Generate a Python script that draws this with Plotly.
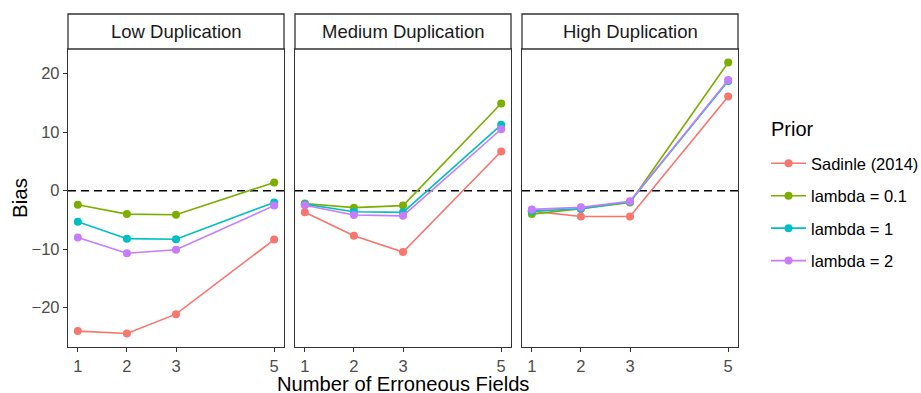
import plotly.graph_objects as go

# Number of erroneous fields on the x axis
fields = [1, 2, 3, 5]

panels = ["Low Duplication", "Medium Duplication", "High Duplication"]
priors = ["Sadinle (2014)", "lambda = 0.1", "lambda = 1", "lambda = 2"]
colors = ["#F8766D", "#7CAE00", "#00BFC4", "#C77CFF"]

# Bias per prior, one list per duplication level
bias_low = {
    "Sadinle (2014)": [-24.0, -24.4, -21.1, -8.35],
    "lambda = 0.1": [-2.4, -4.0, -4.1, 1.4],
    "lambda = 1": [-5.3, -8.2, -8.3, -2.0],
    "lambda = 2": [-8.0, -10.7, -10.1, -2.55],
}
bias_medium = {
    "Sadinle (2014)": [-3.7, -7.7, -10.5, 6.7],
    "lambda = 0.1": [-2.2, -2.9, -2.55, 14.9],
    "lambda = 1": [-2.3, -3.6, -3.7, 11.25],
    "lambda = 2": [-2.5, -4.15, -4.3, 10.5],
}
bias_high = {
    "Sadinle (2014)": [-3.5, -4.4, -4.4, 16.1],
    "lambda = 0.1": [-4.0, -3.1, -2.0, 21.9],
    "lambda = 1": [-3.5, -3.1, -1.9, 18.75],
    "lambda = 2": [-3.2, -2.85, -1.8, 18.9],
}
panel_data = [bias_low, bias_medium, bias_high]

y_ticks = [-20, -10, 0, 10, 20]
x_ticks = [1, 2, 3, 5]

FONT = "Liberation Sans, Arial, Helvetica, sans-serif"
DARK = "#333333"
TICK_TXT = "#4D4D4D"

# ggplot-style 5% expansion of the data range
all_vals = [v for d in panel_data for s in d.values() for v in s]
lo, hi = min(all_vals), max(all_vals)
pad = 0.05 * (hi - lo)
y_range = [lo - pad, hi + pad]
x_pad = 0.05 * (max(fields) - min(fields))
x_range = [min(fields) - x_pad, max(fields) + x_pad]

fig = go.Figure()

FIG_W, FIG_H = 921, 393
M_L, M_R, M_T, M_B = 68, 183, 14, 46
W = float(FIG_W - M_L - M_R)
H = float(FIG_H - M_T - M_B)
pw, gap = 216.0, 11.0
domains = [[0, pw / W], [(pw + gap) / W, (2 * pw + gap) / W], [(2 * pw + 2 * gap) / W, 1.0]]
y_top = (FIG_H - M_B - 49) / H

for p, data in enumerate(panel_data):
    ax = "" if p == 0 else str(p + 1)
    for name, col in zip(priors, colors):
        fig.add_trace(go.Scatter(
            x=fields, y=data[name], mode="lines+markers", name=name,
            line=dict(color=col, width=1.6),
            marker=dict(color=col, size=8),
            legendgroup=name, showlegend=(p == 0),
            xaxis="x" + ax, yaxis="y" + ax,
        ))

layout = dict(
    width=FIG_W, height=FIG_H,
    margin=dict(l=M_L, r=M_R, t=M_T, b=M_B, autoexpand=False),
    paper_bgcolor="white", plot_bgcolor="white",
    font=dict(family=FONT, color="#1A1A1A"),
    legend=dict(
        xref="container", yref="container",
        x=766 / FIG_W, y=1 - 146 / FIG_H, xanchor="left", yanchor="top",
        font=dict(size=16.5, color="#000000"),
        tracegroupgap=8, itemwidth=35, bgcolor="rgba(0,0,0,0)",
    ),
    shapes=[], annotations=[],
)

for p in range(3):
    ax = "" if p == 0 else str(p + 1)
    xa = dict(
        domain=domains[p], range=x_range, tickvals=x_ticks, ticktext=[str(t) for t in x_ticks],
        showgrid=False, zeroline=False, showline=True, mirror=True, linecolor=DARK, linewidth=1.3,
        ticks="outside", ticklen=4, tickwidth=1.2, tickcolor=DARK,
        tickfont=dict(size=16.5, color=TICK_TXT), anchor="y" + ax,
    )
    ya = dict(
        domain=[0, y_top], range=y_range, tickvals=y_ticks,
        showgrid=False, zeroline=False, showline=True, mirror=True, linecolor=DARK, linewidth=1.3,
        ticks="outside" if p == 0 else "", ticklen=4, tickwidth=1.2, tickcolor=DARK,
        showticklabels=(p == 0),
        tickfont=dict(size=16.5, color=TICK_TXT), anchor="x" + ax,
    )
    layout["xaxis" + ax] = xa
    layout["yaxis" + ax] = ya
    xref = "x" + ax + " domain"
    # reference line at zero bias
    layout["shapes"].append(dict(
        type="line", xref=xref, yref="y" + ax, x0=0, x1=1, y0=0, y1=0,
        line=dict(color="black", width=1.5, dash="8px,5px"), layer="below",
    ))
    # facet strip
    layout["shapes"].append(dict(
        type="rect", xref=xref, yref="paper", x0=0, x1=1, y0=y_top, y1=1,
        line=dict(color=DARK, width=1.3), fillcolor="white",
    ))
    layout["annotations"].append(dict(
        text=panels[p], xref=xref, yref="paper", x=0.5, y=(y_top + 1) / 2,
        showarrow=False, xanchor="center", yanchor="middle",
        font=dict(size=18.5, color="#1A1A1A"),
    ))

# shared axis titles and legend heading
layout["annotations"].append(dict(
    text="Number of Erroneous Fields", xref="paper", yref="paper", x=0.5, y=0,
    yshift=-37, showarrow=False, xanchor="center", yanchor="middle",
    font=dict(size=20.2, color="#000000"),
))
layout["annotations"].append(dict(
    text="Bias", xref="paper", yref="paper", x=0, y=y_top / 2,
    xshift=-49, showarrow=False, xanchor="center", yanchor="middle", textangle=-90,
    font=dict(size=20.5, color="#000000"),
))
layout["annotations"].append(dict(
    text="Prior", xref="paper", yref="paper", x=(769 - M_L) / W, y=1 - (129 - M_T) / H,
    showarrow=False, xanchor="left", yanchor="middle",
    font=dict(size=20, color="#000000"),
))

fig.update_layout(**layout)
fig.write_html("out.html")
